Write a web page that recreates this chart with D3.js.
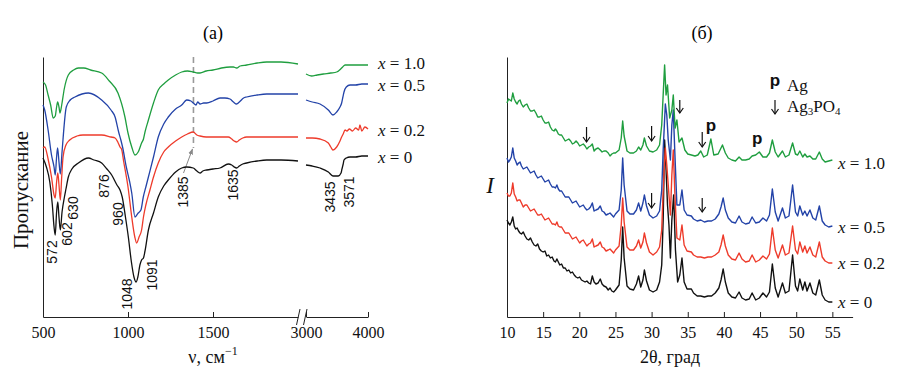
<!DOCTYPE html>
<html><head><meta charset="utf-8">
<script src="https://cdn.jsdelivr.net/npm/d3@7"></script>
<style>body{margin:0;background:#fff} svg{display:block}</style>
</head><body>
<svg id="c" width="907" height="380"></svg>
<script>
// ---------- shared ----------
const seriesNames = ["0", "0.2", "0.5", "1.0"];
const seriesColors = ["#111111", "#ee3b2b", "#2343a8", "#1f9e3f"];

// ---------- panel (a): FTIR, [wavenumber cm-1, transmittance a.u.] ----------
const ftirTicksLeft = [500, 1000, 1500];
const ftirTicksRight = [3000, 4000];
const ftir0L = [[500,159],[520,150],[540,135],[555,112],[565,90],[572,82],[580,105],[587,115],[594,100],[602,87],[612,105],[626,120],[635,128],[649,140],[670,148],[708,154],[767,159],[800,157],[845,154],[876,148],[904,142],[935,132],[953,127],[966,120],[985,100],[1002,80],[1020,55],[1035,40],[1048,35],[1058,40],[1070,52],[1080,57],[1091,59],[1100,66],[1120,87],[1150,104],[1178,120],[1210,131],[1237,137],[1280,145],[1316,149],[1345,150],[1384,149],[1405,146],[1424,144],[1440,146],[1463,147],[1500,148],[1541,149],[1590,153],[1610,152],[1625,150],[1639,149],[1655,151],[1675,153],[1698,154],[1760,156],[1816,157],[1900,157],[2000,156]];
const ftir0R = [[3000,152],[3100,151],[3226,149],[3360,145],[3435,141],[3520,141],[3565,144],[3580,148],[3600,153],[3613,157],[3650,159],[3710,160],[3800,160],[3900,161],[4000,161]];
const ftir02L = [[500,169],[510,170],[530,158],[550,140],[565,122],[572,119],[580,135],[587,144],[594,132],[602,117],[610,140],[618,160],[635,172],[657,177],[700,181],[735,182],[800,182],[845,182],[900,180],[924,179],[940,175],[953,170],[962,168],[975,155],[1000,130],[1022,100],[1040,80],[1051,74],[1065,80],[1080,87],[1091,100],[1105,112],[1129,127],[1150,140],[1178,154],[1210,165],[1237,170],[1280,176],[1316,180],[1350,183],[1384,185],[1405,182],[1424,181],[1460,180],[1500,180],[1550,180],[1590,180],[1610,178],[1625,176],[1639,175],[1655,177],[1675,179],[1698,180],[1800,180],[1900,180],[2000,180]];
const ftir02R = [[3000,179],[3100,179],[3226,178],[3360,174],[3400,170],[3435,167],[3495,170],[3548,176],[3575,180],[3600,183],[3630,187],[3660,186],[3700,188],[3750,186],[3800,189],[3850,187],[3870,192],[3900,186],[3950,190],[4000,188]];
const ftir05L = [[500,212],[510,207],[530,187],[550,162],[565,150],[572,142],[580,160],[586,169],[594,155],[602,143],[612,165],[637,210],[660,217],[688,220],[767,224],[845,217],[900,207],[924,200],[945,185],[958,177],[968,170],[990,150],[1010,135],[1022,124],[1041,100],[1060,104],[1076,107],[1090,120],[1105,130],[1120,140],[1150,160],[1178,180],[1210,193],[1237,200],[1280,208],[1316,212],[1345,217],[1370,216],[1384,214],[1400,212],[1410,215],[1424,213],[1445,214],[1463,214],[1500,216],[1541,219],[1570,219],[1600,218],[1620,215],[1639,213],[1655,215],[1680,219],[1698,220],[1760,222],[1816,223],[1900,223],[2000,223]];
const ftir05R = [[3000,217],[3100,215],[3226,213],[3360,207],[3435,202],[3495,205],[3548,210],[3575,214],[3595,220],[3613,225],[3650,230],[3710,232],[3800,232],[3900,233],[4000,233]];
const ftir10L = [[500,235],[515,232],[530,222],[545,212],[560,199],[572,201],[580,210],[586,215],[594,210],[600,204],[610,212],[625,228],[649,242],[680,247],[708,249],[740,249],[780,247],[845,244],[890,236],[941,224],[982,200],[1000,184],[1022,170],[1041,162],[1060,165],[1080,174],[1091,178],[1100,185],[1120,197],[1150,214],[1178,227],[1210,233],[1237,237],[1280,242],[1316,245],[1350,246],[1384,245],[1410,244],[1424,244],[1460,246],[1500,247],[1550,249],[1600,250],[1620,250],[1639,249],[1660,251],[1698,252],[1760,254],[1816,255],[1900,255],[2000,253]];
const ftir10R = [[3000,243],[3090,241],[3180,242],[3280,243],[3400,244],[3495,245],[3560,248],[3590,250],[3630,252],[3700,252],[3800,252],[3900,252],[4000,252]];
const ftirPeakLabels = ["572","602","630","876","960","1048","1091","1385","1635","3435","3571"];

// ---------- panel (б): XRD, [2theta deg, intensity a.u.] ----------
const xrdTicks = [10, 15, 20, 25, 30, 35, 40, 45, 50, 55];
const xrd0 = [[10,97],[10.4,92],[10.8,100],[11.2,88],[11.6,86],[12,83],[12.5,81],[13,77],[13.5,75],[14,71],[14.5,68],[15,65],[15.5,61],[16,59],[16.5,56],[16.9,58],[17.3,52],[17.8,49],[18.3,46],[18.8,44],[19.3,42],[19.8,39],[20.3,37],[20.8,35],[21.3,34],[21.8,41],[22.3,33],[22.9,38],[23.4,31],[24,27],[24.5,26],[25,27],[25.5,32],[25.8,57],[26,90],[26.2,59],[26.6,31],[27,28],[27.5,27],[27.9,33],[28.2,41],[28.5,30],[28.8,37],[29,47],[29.3,36],[29.7,27],[30.2,25],[30.7,27],[31.1,35],[31.4,52],[31.6,97],[31.8,177],[32,147],[32.2,112],[32.4,92],[32.6,59],[32.8,97],[33.05,122],[33.3,67],[33.6,35],[33.9,42],[34.2,59],[34.5,35],[34.9,28],[35.5,28],[35.8,24],[36.3,21],[36.8,21],[37.3,20],[37.8,21],[38.3,21],[38.8,24],[39.3,29],[39.6,37],[39.9,48],[40.2,35],[40.6,24],[41.1,20],[41.6,19],[42.1,25],[42.5,19],[43,17],[43.5,18],[43.9,24],[44.4,17],[44.9,19],[45.4,24],[45.9,20],[46.3,25],[46.7,53],[47.1,29],[47.5,20],[48.1,34],[48.5,24],[49,26],[49.5,62],[49.9,31],[50.2,26],[50.5,38],[50.9,27],[51.2,35],[51.5,26],[51.9,34],[52.3,24],[52.7,22],[53.2,37],[53.6,22],[54,17],[54.5,15],[55,15]];
const xrd0Fine = [[10.2,94],[10.6,95],[11,91],[11.4,89],[11.8,84],[12.25,85],[12.75,78],[13.25,79],[13.75,72],[14.25,73],[14.75,66],[15.25,66],[15.75,62],[16.25,60],[16.7,55],[17.1,55],[17.55,53],[18.05,49],[18.55,47],[19.05,45],[19.55,40],[20.05,40],[20.55,36],[21.05,36],[21.55,33],[22.05,35],[22.6,34],[23.15,33],[23.7,30],[24.25,29],[24.75,25]];
const xrd02 = [[10,124],[10.4,121],[10.8,134],[11.2,120],[11.6,117],[12,114],[12.5,112],[13,109],[13.5,107],[14,105],[14.5,102],[15,100],[15.5,98],[16,96],[16.5,93],[16.9,95],[17.3,90],[17.8,87],[18.3,84],[18.8,81],[19.3,79],[19.8,77],[20.3,76],[20.8,74],[21.3,73],[21.8,78],[22.3,71],[22.9,75],[23.4,69],[24,67],[24.5,66],[25,67],[25.5,71],[25.8,92],[26,119],[26.2,95],[26.6,70],[27,67],[27.5,67],[27.9,71],[28.2,77],[28.5,69],[28.8,75],[29,84],[29.3,74],[29.7,65],[30.2,62],[30.7,65],[31.1,70],[31.4,87],[31.6,127],[31.9,169],[32.1,152],[32.3,132],[32.6,102],[32.8,142],[33,167],[33.2,127],[33.5,79],[33.9,77],[34.2,92],[34.5,72],[34.9,66],[35.5,65],[35.8,62],[36.3,60],[36.8,60],[37.3,59],[37.8,60],[38.3,60],[38.8,62],[39.3,65],[39.6,72],[39.9,82],[40.2,71],[40.6,62],[41.1,58],[41.6,57],[42.1,64],[42.5,58],[43,55],[43.5,56],[43.9,62],[44.4,55],[44.9,57],[45.4,61],[45.9,58],[46.3,63],[46.7,89],[47.1,67],[47.5,59],[48.1,72],[48.5,62],[49,64],[49.5,91],[49.9,67],[50.2,63],[50.5,75],[50.9,65],[51.2,71],[51.5,64],[51.9,70],[52.3,62],[52.7,60],[53.2,75],[53.6,60],[54,56],[54.5,54],[55,54]];
const xrd02Fine = [[10.2,121],[10.6,124],[11,123],[11.4,116],[11.8,117],[12.25,110],[12.75,112],[13.25,106],[13.75,108],[14.25,102],[14.75,103],[15.25,97],[15.75,99],[16.25,93],[16.7,92],[17.1,91],[17.55,90],[18.05,84],[18.55,84],[19.05,78],[19.55,80],[20.05,74],[20.55,77],[21.05,71],[21.55,74],[22.05,70],[22.6,72],[23.15,70],[23.7,66],[24.25,68],[24.75,64]];
const xrd05 = [[10,159],[10.4,157],[10.8,169],[11.2,156],[11.6,154],[12,151],[12.5,149],[13,147],[13.5,145],[14,142],[14.5,140],[15,138],[15.5,136],[16,133],[16.5,130],[16.9,132],[17.3,126],[17.8,123],[18.3,120],[18.8,117],[19.3,115],[19.8,113],[20.3,111],[20.8,109],[21.3,108],[21.8,114],[22.3,107],[22.9,111],[23.4,105],[24,103],[24.5,102],[25,103],[25.5,107],[25.8,127],[26,159],[26.2,132],[26.6,106],[27,103],[27.5,103],[27.9,107],[28.2,114],[28.5,106],[28.8,114],[29,122],[29.3,111],[29.7,102],[30.2,99],[30.7,101],[31.1,106],[31.4,127],[31.6,167],[31.9,213],[32.1,202],[32.3,177],[32.6,157],[32.8,192],[33,207],[33.2,167],[33.5,112],[33.9,112],[34.2,127],[34.5,107],[34.9,102],[35.5,101],[35.8,98],[36.3,96],[36.8,97],[37.3,95],[37.8,96],[38.3,96],[38.8,98],[39.3,103],[39.6,110],[39.9,119],[40.2,107],[40.6,99],[41.1,95],[41.6,94],[42.1,101],[42.5,95],[43,93],[43.5,94],[43.9,100],[44.4,94],[44.9,95],[45.4,99],[45.9,96],[46.3,102],[46.7,128],[47.1,105],[47.5,96],[48.1,109],[48.5,99],[49,101],[49.5,132],[49.9,105],[50.2,101],[50.5,111],[50.9,102],[51.2,106],[51.5,101],[51.9,107],[52.3,99],[52.7,97],[53.2,111],[53.6,96],[54,92],[54.5,90],[55,91]];
const xrd05Fine = [[10.2,155],[10.6,160],[11,159],[11.4,152],[11.8,155],[12.25,148],[12.75,150],[13.25,144],[13.75,146],[14.25,139],[14.75,141],[15.25,135],[15.75,137],[16.25,130],[16.7,129],[17.1,128],[17.55,126],[18.05,120],[18.55,120],[19.05,114],[19.55,116],[20.05,110],[20.55,112],[21.05,107],[21.55,110],[22.05,106],[22.6,108],[23.15,106],[23.7,102],[24.25,104],[24.75,100]];
const xrd10 = [[10,214],[10.4,217],[10.8,224],[11.2,215],[11.6,216],[12,213],[12.5,212],[13,209],[13.5,206],[14,204],[14.5,200],[15,197],[15.5,194],[16,190],[16.5,186],[16.9,186],[17.3,182],[17.8,179],[18.3,177],[18.8,176],[19.3,174],[19.8,174],[20.3,172],[20.8,171],[21.3,170],[21.8,173],[22.3,168],[22.9,167],[23.4,166],[24,164],[24.5,163],[25,164],[25.5,167],[25.8,179],[26,196],[26.2,181],[26.6,166],[27,164],[27.5,164],[27.9,166],[28.2,170],[28.5,167],[28.8,172],[29,179],[29.3,171],[29.7,166],[30.2,165],[30.7,167],[31.1,172],[31.4,192],[31.6,222],[31.8,252],[32,222],[32.2,232],[32.5,199],[32.8,207],[33,222],[33.25,189],[33.5,197],[33.8,175],[34.2,179],[34.6,167],[35,163],[35.5,162],[36,161],[36.4,162],[36.8,166],[37.2,160],[37.7,162],[38.2,178],[38.6,162],[39.2,163],[39.8,172],[40.2,164],[40.6,159],[41.1,157],[41.6,156],[42.1,160],[42.5,157],[43,157],[43.5,158],[43.9,161],[44.4,162],[44.9,165],[45.4,160],[45.9,160],[46.3,164],[46.7,177],[47.1,165],[47.5,160],[48.1,166],[48.5,160],[49,162],[49.5,174],[49.9,163],[50.2,162],[50.5,166],[50.9,160],[51.2,163],[51.5,160],[51.9,161],[52.3,158],[52.7,158],[53.2,165],[53.6,158],[54,155],[54.5,156],[55,157]];
const xrd10Fine = [[10.2,218],[10.6,216],[11,218],[11.4,213],[11.8,217],[12.25,210],[12.75,213],[13.25,206],[13.75,207],[14.25,200],[14.75,201],[15.25,194],[15.75,195],[16.25,187],[16.7,188],[17.1,183],[17.55,182],[18.05,176],[18.55,178],[19.05,173],[19.55,176],[20.05,171],[20.55,173],[21.05,168],[21.55,171],[22.05,166],[22.6,169],[23.15,165],[23.7,166],[24.25,161],[24.75,164]];

// ---------- drawing ----------
const svg = d3.select("#c");
const serif = "'Liberation Serif','Times New Roman',serif";
const sans = "'Liberation Sans',Arial,sans-serif";

// scales (a)
const xaL = d3.scaleLinear().domain([500, 2000]).range([43, 298]);
const xaR = d3.scaleLinear().domain([3000, 4000]).range([306, 368]);
const ya = d3.scaleLinear().domain([0, 260]).range([317, 57]);
// scales (б)
const xb = d3.scaleLinear().domain([10, 57.8]).range([507, 852.6]);
const yb = d3.scaleLinear().domain([0, 260]).range([317, 57]);

function styleAxis(g) {
  g.selectAll("path.domain").attr("stroke", "#222").attr("stroke-width", 1);
  g.selectAll(".tick line").attr("stroke", "#222");
  g.selectAll(".tick text").attr("font-family", serif).attr("font-size", 16).attr("fill", "#111");
}
const fmt = d3.format("d");

// axes (a)
svg.append("g").attr("transform", "translate(0,317)")
  .call(d3.axisBottom(xaL).tickValues(ftirTicksLeft).tickFormat(fmt).tickSizeInner(-5).tickSizeOuter(0).tickPadding(10)).call(styleAxis);
svg.append("g").attr("transform", "translate(0,317)")
  .call(d3.axisBottom(xaR).tickValues(ftirTicksRight).tickFormat(fmt).tickSizeInner(-5).tickSizeOuter(0).tickPadding(10)).call(styleAxis);
svg.append("g").attr("transform", "translate(43,0)")
  .call(d3.axisLeft(ya).tickValues([]).tickSizeOuter(0)).call(styleAxis);
// break marks
[296.5, 303.5].forEach(bx => {
  svg.append("line").attr("x1", bx).attr("y1", 325).attr("x2", bx + 3.5).attr("y2", 309)
    .attr("stroke", "#222").attr("stroke-width", 1);
});

// axes (б)
svg.append("g").attr("transform", "translate(0,317)")
  .call(d3.axisBottom(xb).tickValues(xrdTicks).tickFormat(fmt).tickSizeInner(-5).tickSizeOuter(0).tickPadding(10)).call(styleAxis);
svg.append("g").attr("transform", "translate(507,0)")
  .call(d3.axisLeft(yb).tickValues([]).tickSizeOuter(0)).call(styleAxis);

// dashed line at 1385 & arrow
svg.append("line").attr("x1", xaL(1385)).attr("x2", xaL(1385)).attr("y1", ya(260)).attr("y2", ya(169))
  .attr("stroke", "#999").attr("stroke-width", 1.6).attr("stroke-dasharray", "6,4");
svg.append("defs").append("marker").attr("id", "ah").attr("viewBox", "0 0 10 10").attr("refX", 9).attr("refY", 5)
  .attr("markerWidth", 6).attr("markerHeight", 6).attr("orient", "auto")
  .append("path").attr("d", "M0,1 L10,5 L0,9 z").attr("fill", "#888");
svg.append("line").attr("x1", 183.5).attr("y1", 173).attr("x2", 192.5).attr("y2", 149)
  .attr("stroke", "#888").attr("stroke-width", 1).attr("marker-end", "url(#ah)");

// FTIR lines
const lineL = d3.line().x(d => xaL(d[0])).y(d => ya(d[1])).curve(d3.curveMonotoneX);
const lineR = d3.line().x(d => xaR(d[0])).y(d => ya(d[1])).curve(d3.curveMonotoneX);
const ftirL = [ftir0L, ftir02L, ftir05L, ftir10L];
const ftirR = [ftir0R, ftir02R, ftir05R, ftir10R];
ftirL.forEach((s, i) => {
  svg.append("path").attr("d", lineL(s)).attr("fill", "none").attr("stroke", seriesColors[i]).attr("stroke-width", 1.3);
  svg.append("path").attr("d", lineR(ftirR[i])).attr("fill", "none").attr("stroke", seriesColors[i]).attr("stroke-width", 1.3);
});

// XRD lines
const lineB = d3.line().x(d => xb(d[0])).y(d => yb(d[1]));
const xrdAll = [xrd0.concat(xrd0Fine), xrd02.concat(xrd02Fine), xrd05.concat(xrd05Fine), xrd10.concat(xrd10Fine)];
xrdAll.forEach((s, i) => {
  s.sort((a, b) => a[0] - b[0]);
  svg.append("path").attr("d", lineB(s)).attr("fill", "none").attr("stroke", seriesColors[i])
    .attr("stroke-width", 1.4).attr("stroke-linejoin", "round");
});

// FTIR peak labels (rotated)
const peakPos = [[52,252],[67,234],[73,208],[104,186],[118,214],[127,294],[152,275],[183,192],[233,185],[330,197],[349,192]];
ftirPeakLabels.forEach((t, i) => {
  svg.append("text").attr("transform", `translate(${peakPos[i][0]},${peakPos[i][1]}) rotate(-90)`)
    .attr("text-anchor", "middle").attr("dominant-baseline", "central")
    .attr("font-family", sans).attr("font-size", 14).attr("fill", "#111").text(t);
});

// series labels
function seriesLabel(x, y, name) {
  const t = svg.append("text").attr("x", x).attr("y", y).attr("font-family", serif).attr("font-size", 17).attr("fill", "#111");
  t.append("tspan").attr("font-style", "italic").text("x");
  t.append("tspan").text(" = " + name);
}
const labA = [163, 136, 91, 69];
const labB = [308, 269, 233, 169];
seriesNames.forEach((n, i) => { seriesLabel(378, labA[i], n); seriesLabel(838, labB[i], n); });

// titles
svg.append("text").attr("x", 213).attr("y", 39).attr("text-anchor", "middle").attr("font-family", serif).attr("font-size", 18).text("(a)");
svg.append("text").attr("x", 702).attr("y", 39).attr("text-anchor", "middle").attr("font-family", serif).attr("font-size", 18).text("(б)");

// axis titles
const xt = svg.append("text").attr("x", 213).attr("y", 363).attr("text-anchor", "middle").attr("font-family", serif).attr("font-size", 18).attr("fill", "#111");
xt.append("tspan").text("ν, см");
xt.append("tspan").attr("dy", -8).attr("font-size", 12).text("−1");
svg.append("text").attr("x", 670).attr("y", 363).attr("text-anchor", "middle").attr("font-family", serif).attr("font-size", 18).attr("fill", "#111").text("2θ, град");
svg.append("text").attr("transform", "translate(28,190) rotate(-90)").attr("text-anchor", "middle")
  .attr("font-family", serif).attr("font-size", 21).attr("fill", "#111").text("Пропускание");
svg.append("text").attr("x", 490).attr("y", 193).attr("text-anchor", "middle").attr("font-family", serif)
  .attr("font-style", "italic").attr("font-size", 23).attr("fill", "#111").text("I");

// arrows (Ag3PO4 markers)
function downArrow(x, y1, y2) {
  const g = svg.append("g").attr("stroke", "#111").attr("stroke-width", 1.2).attr("fill", "none");
  g.append("line").attr("x1", x).attr("x2", x).attr("y1", y1).attr("y2", y2);
  g.append("path").attr("d", `M${x-3.5},${y2-5} L${x},${y2} L${x+3.5},${y2-5}`);
}
const arrowMarks = [[21.0,127,142],[30.0,126,141],[33.9,100,113],[37.0,132,147],[30.0,193,208],[37.0,198,212]];
arrowMarks.forEach(a => downArrow(xb(a[0]), a[1], a[2]));
const agMarks = [[38.2,131],[44.6,144]];
agMarks.forEach(a => svg.append("text").attr("x", xb(a[0])).attr("y", a[1]).attr("text-anchor", "middle")
  .attr("font-family", sans).attr("font-weight", "bold").attr("font-size", 17).attr("fill", "#111").text("p"));

// legend
svg.append("text").attr("x", 775).attr("y", 86).attr("text-anchor", "middle").attr("font-family", sans)
  .attr("font-weight", "bold").attr("font-size", 17).attr("fill", "#111").text("p");
svg.append("text").attr("x", 787).attr("y", 91).attr("font-family", serif).attr("font-size", 17).attr("fill", "#111").text("Ag");
downArrow(775, 100, 114);
const lg = svg.append("text").attr("x", 787).attr("y", 112).attr("font-family", serif).attr("font-size", 17).attr("fill", "#111");
lg.append("tspan").text("Ag");
lg.append("tspan").attr("font-size", 11).attr("dy", 3).text("3");
lg.append("tspan").attr("dy", -3).text("PO");
lg.append("tspan").attr("font-size", 11).attr("dy", 3).text("4");
</script>
</body></html>
